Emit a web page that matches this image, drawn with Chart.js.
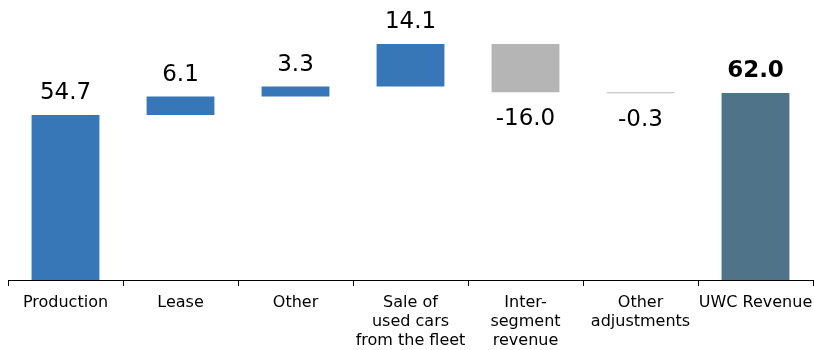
<!DOCTYPE html>
<html>
<head>
<meta charset="utf-8">
<script src="https://cdn.jsdelivr.net/npm/chart.js@4/dist/chart.umd.min.js"></script>
<style>
  body { margin: 0; background: #fff; }
  #wrap { width: 814px; height: 350px; }
</style>
</head>
<body>
<div id="wrap"><canvas id="uwc" width="814" height="350"></canvas></div>
<script>
// Các hạng mục doanh thu (nhãn trục x, xuống dòng theo mảng)
const categories = [
  "Production",
  "Lease",
  "Other",
  ["Sale of", "used cars", "from the fleet"],
  ["Inter-", "segment", "revenue"],
  ["Other", "adjustments"],
  "UWC Revenue"
];
// Giá trị từng bước; bước cuối là tổng
const values = [54.7, 6.1, 3.3, 14.1, -16.0, -0.3, 62.0];
const isTotal = [false, false, false, false, false, false, true];
const barColors = ["#3777b8", "#3777b8", "#3777b8", "#3777b8", "#b5b5b5", "#bdbdbd", "#4f7489"];

// Tính các đoạn nổi [đáy, đỉnh] cho biểu đồ thác nước
let running = 0;
const floating = values.map((v, i) => {
  if (isTotal[i]) {
    running = v;
    return [0, v];
  }
  const start = running;
  running += v;
  return [start, running];
});

// Plugin vẽ số liệu trên / dưới mỗi cột
const valueLabels = {
  id: "valueLabels",
  afterDatasetsDraw(chart) {
    const ctx = chart.ctx;
    const meta = chart.getDatasetMeta(0);
    const y = chart.scales.y;
    ctx.save();
    ctx.fillStyle = "#000";
    ctx.textAlign = "center";
    ctx.textBaseline = "middle";
    meta.data.forEach((bar, i) => {
      const v = values[i];
      const [a, b] = floating[i];
      ctx.font = (isTotal[i] ? "bold " : "") + "23px 'DejaVu Sans', Verdana, sans-serif";
      if (v >= 0) {
        ctx.fillText(v.toFixed(1), bar.x, y.getPixelForValue(Math.max(a, b)) - 22);
      } else {
        ctx.fillText(v.toFixed(1), bar.x, y.getPixelForValue(Math.min(a, b)) + 27);
      }
    });
    ctx.restore();
  }
};

new Chart(document.getElementById("uwc"), {
  type: "bar",
  data: {
    labels: categories,
    datasets: [{
      data: floating,
      backgroundColor: barColors,
      borderWidth: 0,
      barPercentage: 0.59,
      categoryPercentage: 1
    }]
  },
  options: {
    responsive: false,
    animation: false,
    layout: { padding: { left: 8, right: 1, top: 0, bottom: 0 } },
    plugins: {
      legend: { display: false },
      tooltip: { enabled: false }
    },
    scales: {
      y: {
        display: false,
        min: 0,
        max: 92.8
      },
      x: {
        // chiều cao trục cố định, bỏ phần đệm do nhãn cuối tạo ra
        afterFit(scale) {
          scale.height = 70;
          scale.paddingLeft = 0;
          scale.paddingRight = 0;
        },
        border: { display: true, color: "#000", width: 1 },
        grid: {
          offset: true,
          drawOnChartArea: false,
          drawTicks: true,
          tickLength: 6,
          color: "#000"
        },
        ticks: {
          color: "#000",
          padding: 7,
          maxRotation: 0,
          autoSkip: false,
          font: { family: "'DejaVu Sans', Verdana, sans-serif", size: 16, lineHeight: 1.2 }
        }
      }
    }
  },
  plugins: [valueLabels]
});
</script>
</body>
</html>
